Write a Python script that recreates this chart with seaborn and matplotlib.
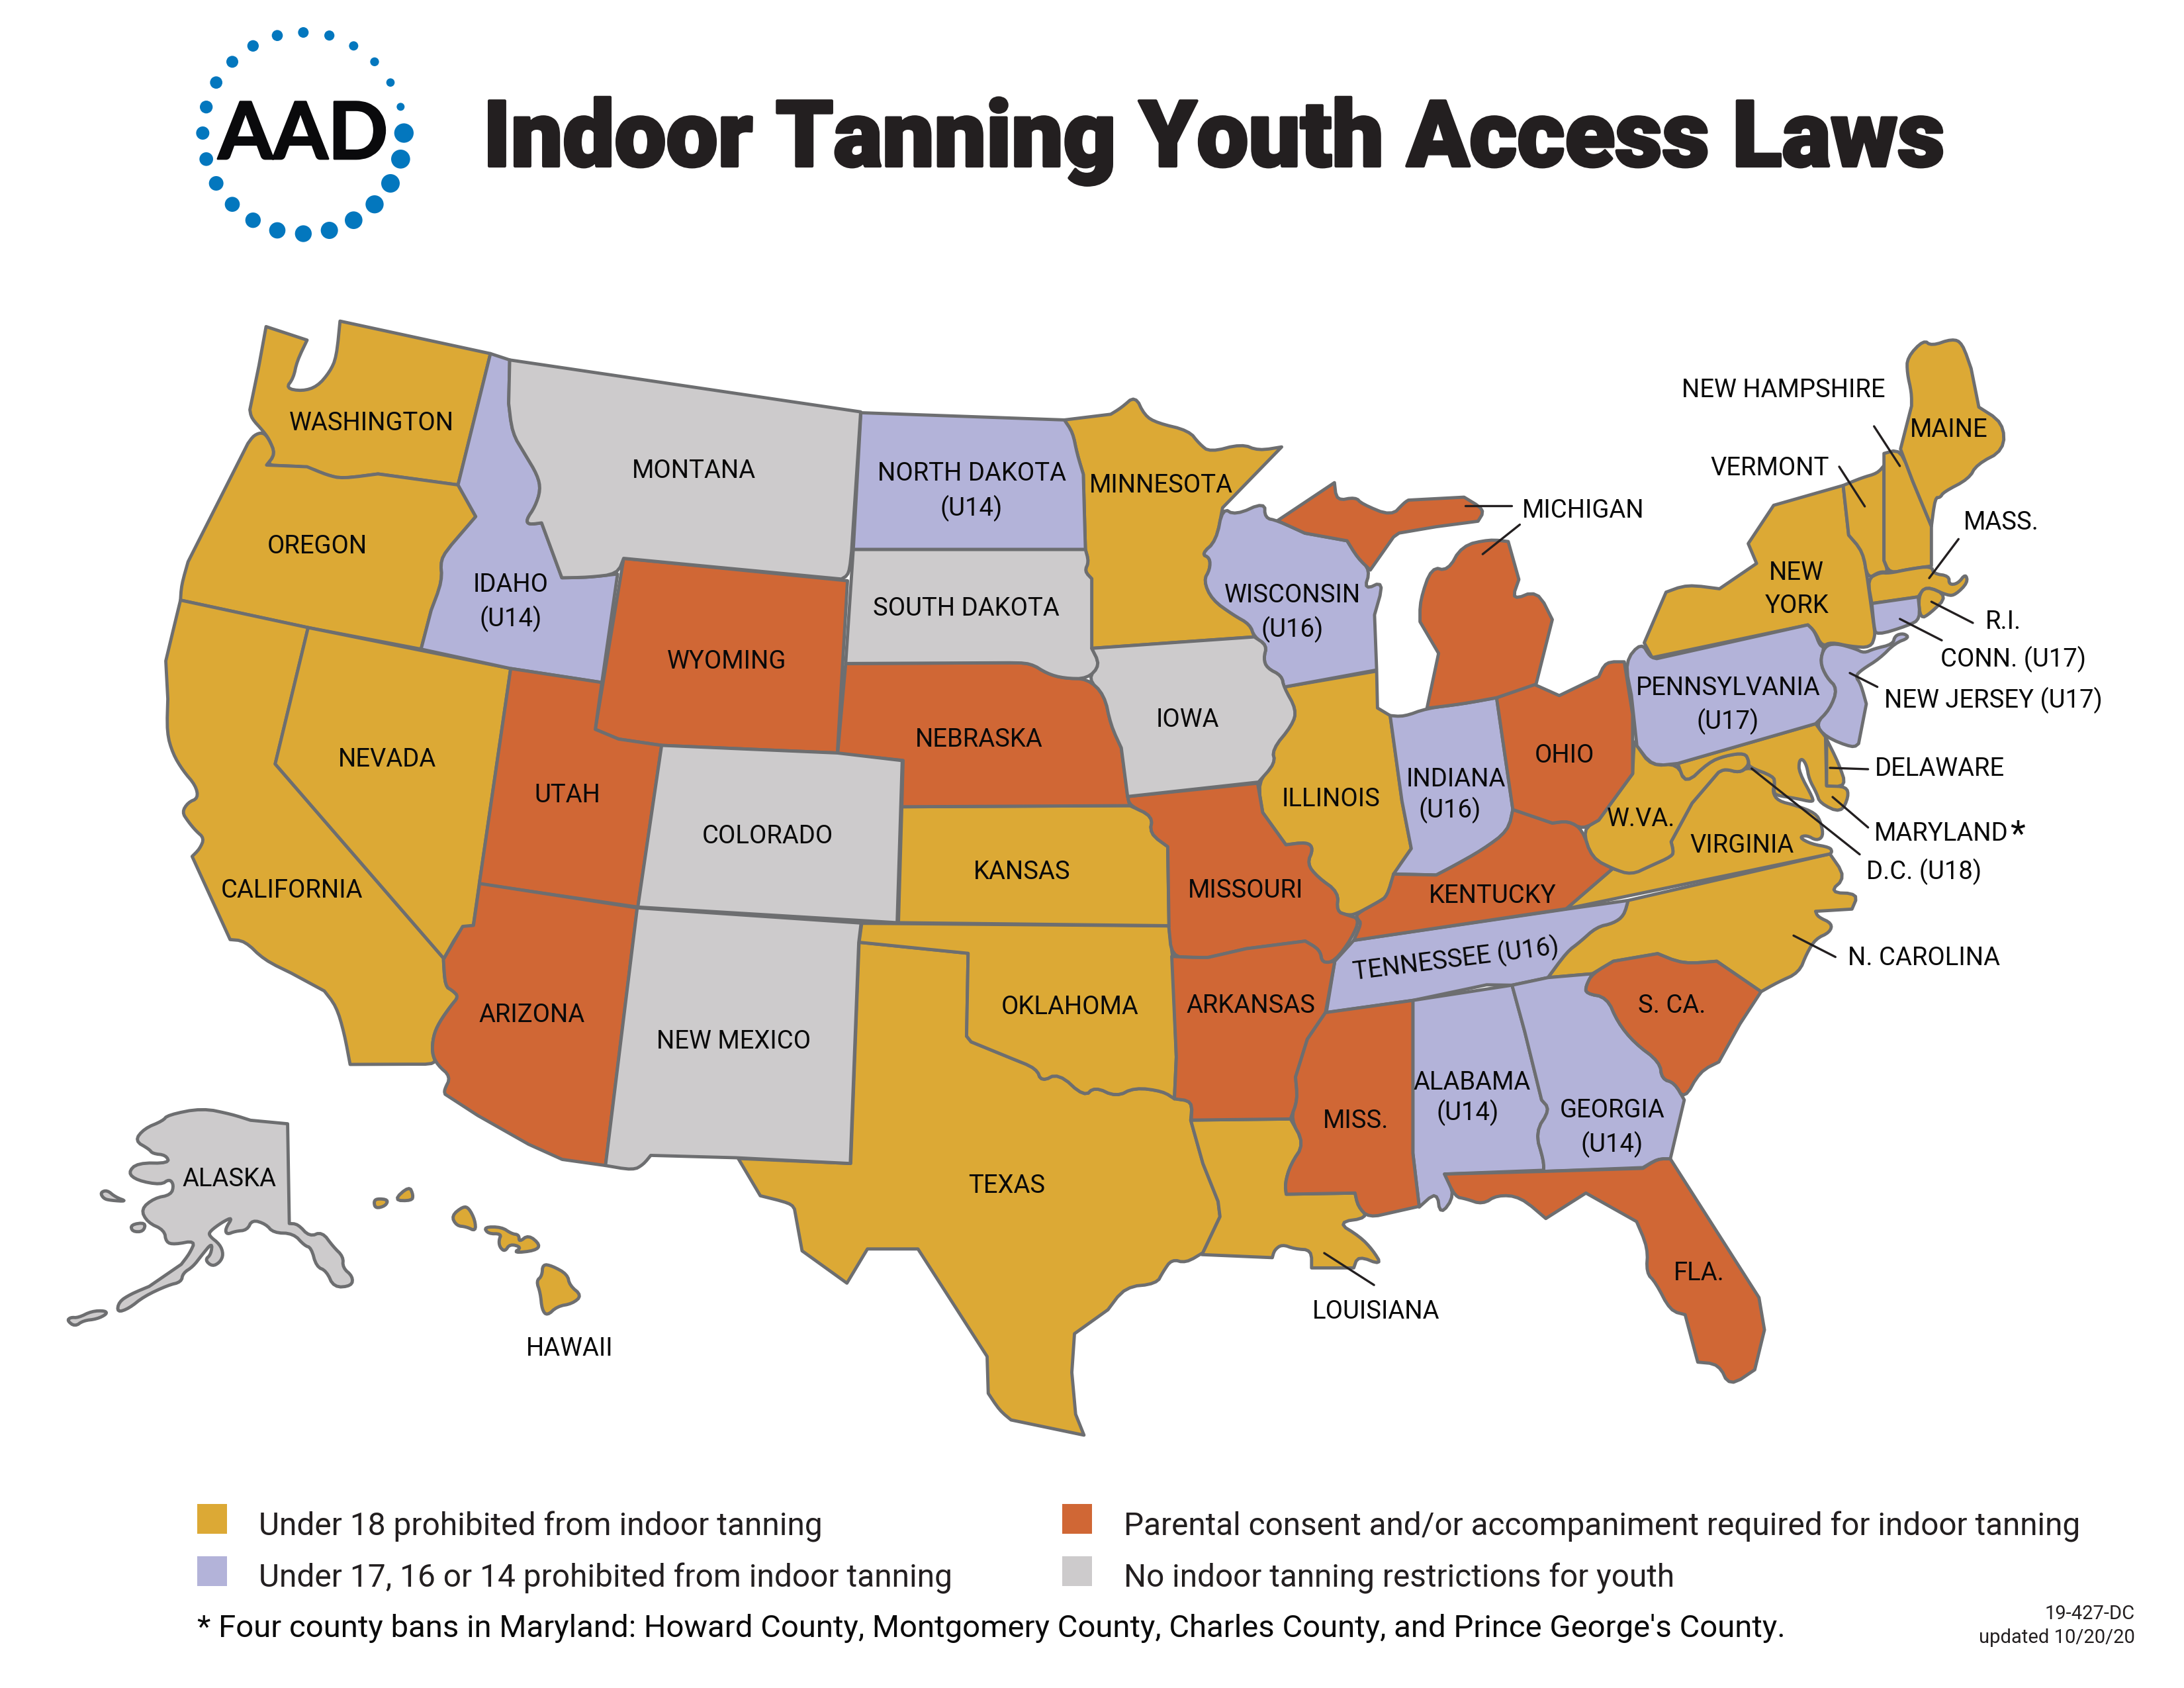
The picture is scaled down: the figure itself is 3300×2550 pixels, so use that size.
import math
import pandas as pd
import seaborn as sns
import matplotlib.pyplot as plt
import matplotlib.patheffects as pe


def crop(x0, y0, sx, sy):
    def trace(pts):
        return [(x0 + x / sx, y0 + y / sy) for x, y in pts]
    return trace


W = crop(200, 450, 1.3067, 1.568)
C = crop(1200, 550, 1.568, 1.742)
E = crop(2100, 480, 1.4255, 1.568)
S = crop(1800, 1300, 1.568, 1.742)
A = crop(80, 1650, 1.96, 3)
SW = crop(620, 1300, 1.96, 1.96)
TX = crop(1100, 1350, 1.742, 1.742)
NE = crop(2650, 480, 3, 3)
MA = crop(2450, 950, 3, 3)
FULL = crop(0, 0, 1, 1)

WASHINGTON = W([(264,68),(345,100),(325,150),(318,190),(303,214),(335,221),(365,210),(390,175),(403,140),(410,55),(707,132),(643,443),(485,417),(415,428),(385,420),(345,400),(300,398),(265,396),(282,370),(270,335),(258,315),(235,285),(232,265),(250,160)])
OREGON = W([(258,318),(240,325),(228,345),(110,625),(97,680),(95,716),(347,781),(570,832),(590,740),(612,670),(608,620),(630,585),(678,518),(643,443),(485,417),(415,428),(385,420),(345,400),(265,396),(282,370),(270,335)])
CALIFORNIA = W([(95,716),(347,781),(282,1104),(615,1565)]) + SW([(98,293),(103,372),(125,385),(143,403),(120,430),(85,480),(68,520),(64,570),(78,603),(0,603)]) + FULL([(529,1608),(520,1560),(508,1520),(490,1497),(440,1470),(399,1450)]) + W([(222,1523),(193,1520),(118,1323),(133,1305),(142,1280),(125,1262),(110,1240),(98,1218),(110,1195),(130,1185),(125,1155),(100,1120),(80,1080),(68,1030),(70,950),(66,860),(80,790)])
NEVADA = W([(347,781),(747,878),(685,1388),(673,1488),(650,1490),(615,1565),(282,1104)])
IDAHO = W([(707,132),(745,147),(743,250),(750,320),(775,370),(800,420),(806,455),(795,495),(778,525),(782,537),(808,533),(848,663),(900,662),(958,654),(927,911),(747,878),(570,832),(590,740),(612,670),(608,620),(630,585),(678,518),(643,443)])
MONTANA = W([(745,147),(1438,270),(1420,600),(1415,655),(1400,666),(970,617),(958,654),(900,662),(848,663),(808,533),(782,537),(778,525),(795,495),(806,455),(800,420),(775,370),(750,320),(743,250)])
WYOMING = W([(970,617),(1412,670),(1392,1078),(1045,1060),(960,1045),(914,1022)])
UTAH = W([(747,878),(927,911),(914,1022),(960,1045),(1045,1060),(998,1443),(685,1388)])
COLORADO = W([(1045,1060),(1392,1078),(1520,1096),(1510,1480),(998,1443)])
ARIZONA = SW([(205,68),(672,140),(578,903),(450,885),(350,840),(200,755),(103,692),(100,680),(120,640),(80,605),(64,570),(68,520),(85,480),(120,430),(143,403),(125,385),(103,372),(98,293),(155,195),(187,192)])
NEW_MEXICO = SW([(672,140),(1335,185),(1328,243),(1303,897),(965,880),(712,873),(690,900),(660,917),(578,903)])
OKLAHOMA = TX([(352,78),(1160,85),(1170,165),(1180,430),(1175,540),(1145,520),(1070,510),(1022,535),(965,508),(938,535),(870,472),(825,495),(812,460),(750,435),(640,390),(628,375),(632,157),(345,128)])
TEXAS = TX([(345,128),(632,157),(628,375),(640,390),(750,435),(812,460),(825,495),(870,472),(938,535),(965,508),(1022,535),(1070,510),(1145,520),(1175,540),(1222,546),(1218,596),(1250,710),(1290,810),(1295,850),(1250,945),(1205,972),(1168,962),(1145,995),(1128,1027),(1045,1035),(1000,1095),(912,1158),(905,1260),(915,1370),(937,1425),(745,1385),(715,1360),(685,1315),(682,1218),(500,935),(367,935),(313,1025),(195,940),(175,830),(165,815),(85,795),(27,697),(323,710)])
KANSAS = C([(255,1165),(795,1162),(850,1190),(842,1235),(885,1270),(888,1478),(247,1470)])
NEBRASKA = C([(122,788),(510,786),(560,787),(600,815),(640,827),(695,828),(735,870),(750,950),(775,1010),(790,1138),(795,1162),(255,1165),(258,1043),(103,1025)])
SOUTH_DAKOTA = C([(140,488),(690,488),(698,520),(688,545),(705,565),(705,748),(725,792),(695,828),(640,827),(600,815),(560,787),(510,786),(122,788)])
NORTH_DAKOTA = C([(158,128),(640,147),(660,180),(670,235),(685,290),(690,488),(140,488)])
MINNESOTA = C([(640,147),(750,132),(775,115),(808,83),(830,135),(860,155),(935,175),(960,210),(985,232),(1060,210),(1100,228),(1155,218),(1015,378),(1000,465),(965,500),(985,510),(985,540),(970,570),(990,620),(1040,660),(1080,685),(1090,718),(705,748),(705,565),(688,545),(698,520),(690,488),(685,290),(670,235),(660,180)])
WISCONSIN = C([(1015,378),(1045,398),(1115,363),(1115,405),(1145,412),(1210,445),(1310,465),(1335,510),(1365,542),(1350,595),(1398,570),(1375,660),(1380,805),(1160,850),(1155,820),(1120,800),(1112,775),(1120,740),(1090,718),(1080,685),(1040,660),(990,620),(970,570),(985,540),(985,510),(965,500),(1000,465)])
IOWA = C([(705,748),(1090,718),(1120,740),(1112,775),(1120,800),(1155,820),(1160,850),(1190,910),(1180,950),(1132,1015),(1140,1050),(1100,1100),(790,1138),(775,1010),(750,950),(735,870),(695,828),(725,792)])
ILLINOIS = C([(1160,850),(1380,808),(1382,905),(1412,925),(1440,1150),(1462,1275),(1420,1342),(1405,1400),(1385,1415),(1330,1448),(1310,1450),(1285,1440),(1290,1390),(1240,1350),(1215,1315),(1230,1275),(1215,1258),(1165,1265),(1110,1180),(1098,1100),(1140,1050),(1132,1015),(1180,950),(1190,910)])
MISSOURI = C([(790,1138),(1098,1103),(1110,1180),(1165,1265),(1215,1258),(1230,1275),(1215,1315),(1240,1350),(1290,1390),(1285,1440),(1310,1450),(1340,1460)]) + S([(380,205),(340,265),(310,270),(305,235),(270,212),(130,232),(40,255),(0,255)]) + TX([(1168,165),(1160,85)]) + C([(888,1478),(885,1270),(842,1235),(850,1190),(795,1162)])
ARKANSAS = TX([(1168,165)]) + S([(0,255),(40,255),(130,232),(270,212),(305,235),(310,270),(340,265),(318,400),(275,470),(247,570),(252,630),(235,680),(0,683)]) + TX([(1222,546),(1175,540),(1180,430)])
MISSISSIPPI = S([(318,400),(525,368),(525,770),(540,910),(480,925),(420,940),(395,910),(388,875),(225,878),(222,850),(235,800),(268,745),(235,680),(252,630),(247,570),(275,470)])
LOUISIANA = S([(0,683),(235,680),(268,745),(235,800),(222,850),(225,878),(388,875),(395,910),(420,940),(345,952),(400,990),(430,1025),(452,1065),(395,1040),(385,1072),(285,1072),(285,1025),(245,1022),(215,1010),(197,1025),(192,1045),(25,1037)]) + TX([(1250,945),(1295,850),(1290,810),(1250,710),(1218,596)])
ALABAMA = S([(525,368),(760,328),(790,450),(830,630),(850,655),(815,715),(835,790),(835,815),(600,825),(625,880),(590,935),(582,870),(540,912),(525,770)])
GEORGIA = S([(760,328),(845,308),(950,298),(935,330),(935,350),(985,360),(1010,425),(1050,480),(1110,530),(1115,575),(1145,585),(1168,630),(1135,785),(1105,785),(1070,808),(835,818),(835,790),(815,715),(850,655),(830,630),(790,450)])
FLORIDA = S([(600,825),(835,818),(1070,810),(1105,785),(1135,785),(1345,1150),(1358,1235),(1335,1340),(1275,1385),(1250,1325),(1200,1320),(1170,1195),(1135,1185),(1100,1110),(1078,1085),(1082,1020),(1055,950),(935,875),(840,942),(780,885),(725,880),(690,905),(650,890),(625,885)])
SOUTH_CAROLINA = S([(935,330),(950,298),(1000,265),(1105,245),(1165,272),(1245,265),(1350,345),(1300,430),(1250,530),(1205,555),(1168,630),(1145,585),(1115,575),(1110,530),(1050,480),(1010,425),(985,360),(935,350)])
TENNESSEE = S([(385,210),(888,128),(1035,105),(1025,145),(1000,165),(960,175),(920,215),(890,240),(845,308),(760,328),(700,327),(525,368),(320,400),(340,265)])
NORTH_CAROLINA = S([(845,308),(890,240),(920,215),(960,175),(1000,165),(1025,145),(1035,105)]) + MA([(945,1020),(1018,1125),(940,1195),(1075,1200),(1045,1270),(880,1280),(890,1305),(955,1335),(945,1375),(880,1405),(840,1470)]) + S([(1440,295),(1390,320),(1350,345),(1245,265),(1165,272),(1105,245),(1000,265),(950,298)])
VIRGINIA = E([(380,1400),(480,1305),(520,1318)]) + MA([(130,1075),(230,1030),(235,1005),(225,965),(320,790),(440,650),(470,635),(535,652),(575,625),(690,668),(695,700),(685,740),(710,780),(790,800),(880,835),(905,880),(915,940),(885,960),(840,935),(805,945),(860,975),(945,990),(955,1010),(945,1020)])
WEST_VIRGINIA = MA([(58,500),(70,530),(135,622),(255,610),(290,705),(395,605),(470,575),(560,562),(578,600),(570,625),(535,652),(470,635),(440,650),(320,790),(225,965),(235,1005),(230,1030),(130,1075),(45,1115)]) + E([(480,1305),(435,1280),(415,1212),(450,1190),(523,1080)])
MARYLAND = MA([(255,610),(290,705),(395,605),(470,575),(560,562),(578,600),(575,625),(690,668),(695,700),(690,740),(705,755),(790,768),(865,785),(870,770),(805,650),(805,600),(820,588),(840,620),(850,680),(885,745),(900,790),(995,835),(1030,760),(1020,715),(930,710),(925,490),(880,430)])
DELAWARE = MA([(930,500),(985,610),(1020,715),(930,712)])
NEW_JERSEY = MA([(880,430),(925,490),(1050,540),(1075,520),(1110,340),(1085,250),(1060,215),(1090,185),(1170,135),(1240,65),(1305,40),(1280,20),(1240,30),(1230,70),(1145,90),(1100,110),(1060,90),(970,65),(920,80),(900,150),(930,220),(980,270),(945,365)])
PENNSYLVANIA = MA([(15,150),(90,60),(130,128),(160,135)]) + NE([(245,1392),(275,1420),(300,1488)]) + MA([(920,80),(900,150),(930,220),(980,270),(945,365),(880,430),(255,610),(140,622),(70,530),(45,300)])
OHIO = E([(505,815),(523,940),(523,1080),(450,1190),(415,1212),(385,1192),(350,1197),(265,1165),(230,900),(310,868),(365,895),(450,850),(465,815)])
INDIANA = C([(1412,925),(1440,1150),(1462,1275),(1420,1342)]) + E([(100,1320),(135,1300),(200,1260),(255,1215),(265,1165),(230,900),(155,915),(80,925),(30,945)])
KENTUCKY = E([(265,1165),(350,1197),(385,1192),(415,1212),(435,1280),(480,1305),(380,1400)]) + S([(385,210),(403,165),(395,155)]) + C([(1330,1448),(1385,1415),(1405,1400),(1420,1342)]) + E([(100,1320),(135,1300),(200,1260),(255,1215)])
MICHIGAN_UPPER = C([(1145,412),(1280,312),(1285,360),(1330,350),(1345,368),(1415,400),(1445,365)]) + E([(40,432),(160,425),(205,455),(190,482),(100,495),(20,510)]) + C([(1420,455),(1365,542),(1335,510),(1310,465),(1210,445)])
MICHIGAN_LOWER = E([(215,525),(255,530),(278,620),(262,670),(318,645),(350,715),(315,868),(230,900),(155,915),(80,925),(105,795),(65,720),(65,670),(90,590),(125,600),(155,540)])
NEW_YORK = E([(548,770),(595,650),(640,632),(710,642),(790,582),(772,535)]) + NE([(90,850),(405,760),(430,985),(495,1060),(515,1185),(545,1400),(550,1440),(530,1495),(440,1490),(350,1470),(310,1490),(275,1420),(245,1392)]) + E([(565,805)])
VERMONT = NE([(405,760),(490,725),(560,705),(590,670),(590,1100),(610,1155),(570,1150),(515,1185),(495,1060),(430,985)])
NEW_HAMPSHIRE = NE([(590,615),(665,595),(720,740),(805,945),(805,1125),(700,1140),(615,1158),(590,1100)])
MAINE = NE([(665,595),(715,400),(715,340),(695,250),(695,180),(770,100),(805,128),(900,95),(945,115),(985,230),(1020,405),(1130,475),(1135,600),(1010,665),(975,730),(860,790),(845,815),(822,815),(805,945),(720,740)])
MASSACHUSETTS = NE([(515,1185),(570,1155),(615,1158),(700,1140),(805,1125),(815,1160),(885,1170),(885,1210),(925,1205),(960,1160),(970,1200),(915,1255),(880,1260),(780,1215),(745,1265),(535,1295)])
CONNECTICUT = NE([(535,1295),(745,1265),(755,1365),(700,1395),(555,1440),(545,1400)])
RHODE_ISLAND = NE([(745,1265),(780,1215),(880,1260),(800,1340),(755,1365)])
ALASKA = A([(442,72),(530,100),(585,127),(695,143),(700,595),(725,597),(760,655),(797,632),(830,700),(860,745),(858,795),(888,835),(885,878),(832,885),(810,810),(780,790),(765,705),(745,695),(712,640),(653,637),(630,597),(590,578),(575,625),(540,630),(515,645),(510,620),(533,565),(500,590),(465,630),(462,650),(495,690),(505,735),(495,770),(472,790),(450,760),(468,735),(472,680),(440,740),(415,790),(385,820),(380,860),(340,875),(270,925),(225,980),(190,998),(195,950),(230,915),(285,880),(380,780),(405,730),(422,672),(360,690),(335,680),(330,625),(280,590),(260,530),(300,480),(350,465),(358,420),(345,393),(320,420),(250,400),(222,365),(250,320),(345,322),(335,285),(295,278),(285,258),(242,220),(270,165),(325,130),(340,103)])
ST_LAWRENCE = A([(140,455),(160,443),(185,475),(220,495),(170,490),(150,482)])
NUNIVAK = A([(230,600),(275,590),(268,632),(235,632)])
ALEUTIAN = A([(42,1035),(52,1020),(75,1022),(115,992),(155,990),(160,1005),(130,1028),(90,1035),(65,1062)])
KAUAI = A([(950,495),(960,482),(993,487),(985,515),(955,527)])
NIIHAU = A([(1008,490),(1055,425),(1067,465),(1063,492)])
OAHU = A([(1180,560),(1215,517),(1232,525),(1250,580),(1252,630),(1225,610),(1195,605)])
MAUI = SW([(218,1085),(270,1085),(300,1105),(322,1108),(322,1130),(350,1108),(385,1138),(370,1155),(305,1162),(330,1145),(295,1135),(280,1158),(265,1145),(262,1125),(270,1105),(230,1105)])
BIG_ISLAND = SW([(392,1195),(420,1200),(465,1225),(472,1258),(508,1288),(480,1312),(435,1320),(405,1348),(390,1330),(385,1280),(373,1245),(390,1230)])

# law category -> shapes
UNDER_18 = [WASHINGTON, OREGON, CALIFORNIA, NEVADA, TEXAS, OKLAHOMA, KANSAS, MINNESOTA, ILLINOIS, LOUISIANA,
            NORTH_CAROLINA, VIRGINIA, WEST_VIRGINIA, MARYLAND, DELAWARE, NEW_YORK, VERMONT, NEW_HAMPSHIRE, MAINE,
            MASSACHUSETTS, RHODE_ISLAND, KAUAI, NIIHAU, OAHU, MAUI, BIG_ISLAND]
UNDER_17 = [IDAHO, NORTH_DAKOTA, WISCONSIN, INDIANA, TENNESSEE, ALABAMA, GEORGIA, PENNSYLVANIA, NEW_JERSEY, CONNECTICUT]
PARENTAL = [WYOMING, UTAH, ARIZONA, NEBRASKA, MISSOURI, ARKANSAS, MISSISSIPPI, KENTUCKY, OHIO, MICHIGAN_UPPER,
            MICHIGAN_LOWER, SOUTH_CAROLINA, FLORIDA]
NO_LAW = [MONTANA, COLORADO, NEW_MEXICO, SOUTH_DAKOTA, IOWA, ALASKA, ST_LAWRENCE, NUNIVAK, ALEUTIAN]

state_labels = ["WASHINGTON", "OREGON", "IDAHO", "(U14)", "MONTANA", "WYOMING", "NEVADA", "UTAH", "COLORADO", "CALIFORNIA",
                "ARIZONA", "NEW MEXICO", "NORTH DAKOTA", "(U14)", "SOUTH DAKOTA", "MINNESOTA", "WISCONSIN", "(U16)", "IOWA",
                "NEBRASKA", "KANSAS", "MISSOURI", "ILLINOIS", "OKLAHOMA", "TEXAS", "ARKANSAS", "KENTUCKY", "MISS.",
                "ALABAMA", "(U14)", "GEORGIA", "(U14)", "S. CA.", "FLA.", "LOUISIANA", "N. CAROLINA", "HAWAII", "ALASKA",
                "INDIANA", "(U16)", "OHIO", "W.VA.", "VIRGINIA", "PENNSYLVANIA", "(U17)", "NEW", "YORK", "MAINE",
                "NEW HAMPSHIRE", "VERMONT", "MICHIGAN", "MASS.", "R.I.", "CONN. (U17)", "NEW JERSEY (U17)", "DELAWARE",
                "MARYLAND", "D.C. (U18)"]
label_x = [561, 479, 772, 772, 1048, 1098, 585, 857, 1160, 441, 804, 1109, 1469, 1468, 1460, 1754, 1953, 1953, 1794,
           1479, 1544, 1882, 2011, 1617, 1521, 1890, 2255, 2049, 2224, 2218, 2436, 2436, 2526, 2567, 2079, 2907, 861, 346,
           2200, 2191, 2364, 2480, 2632, 2611, 2611, 2714, 2715, 2945, 2695, 2674, 2392, 3024, 3027, 3042, 3012, 2931,
           2933, 2907]
label_y = [639, 825, 883, 935, 712, 999, 1147, 1202, 1264, 1345, 1534, 1574, 716, 768, 919, 733, 900, 951, 1087,
           1118, 1317, 1346, 1207, 1522, 1791, 1519, 1353, 1693, 1635, 1681, 1677, 1729, 1519, 1924, 1981, 1447, 2038, 1781,
           1178, 1224, 1142, 1238, 1278, 1039, 1090, 865, 916, 650, 589, 707, 771, 790, 939, 996, 1058, 1162,
           1259, 1317]

# leader lines from the outside labels into the small states
leader_start = E([(163,445),(280,490)]) + NE([(545,492),(387,675),(928,1003),(805,1287),(662,1365)]) + MA([(1035,200),(945,630),(957,762),(590,633),(780,1390)]) + S([(315,1033)])
leader_end = E([(263,445),(200,560)]) + NE([(662,672),(503,855),(795,1180),(993,1383),(852,1462)]) + MA([(1160,263),(1118,636),(1118,900),(1080,1022),(970,1487)]) + S([(433,1117)])

# logo ring, read clockwise from the top
dot_x = [595,713,823,918,990,1036,1051,1036,990,918,823,713,595,477,367,273,200,155,139,155,200,273,367,477]
dot_y = [87,101,148,220,314,424,543,661,771,866,938,984,999,984,938,866,771,661,543,425,314,220,148,101]
dot_d = [48,46,42,40,38,36,88,86,84,82,80,78,76,74,70,68,66,62,60,58,56,54,52,50]

legend_left = ["Under 18 prohibited from indoor tanning", "Under 17, 16 or 14 prohibited from indoor tanning"]
legend_right = ["Parental consent and/or accompaniment required for indoor tanning", "No indoor tanning restrictions for youth"]
footnote = "* Four county bans in Maryland: Howard County, Montgomery County, Charles County, and Prince George's County."


def round_off(shape, passes=2, reach=55):
    # the source map has soft coasts and rivers, long straight borders stay sharp
    for _ in range(passes):
        out = []
        n = len(shape)
        for i, (x, y) in enumerate(shape):
            px, py = shape[i - 1]
            nx, ny = shape[(i + 1) % n]
            if max(math.hypot(px - x, py - y), math.hypot(nx - x, ny - y)) > reach:
                out.append((x, y))
            else:
                out.append((x + (px - x) * 0.25, y + (py - y) * 0.25))
                out.append((x + (nx - x) * 0.25, y + (ny - y) * 0.25))
        shape = out
    return shape


palette = sns.color_palette(["#dca935", "#b3b3d9", "#d06735", "#cdcbcc"])
outline = "#6d6e70"
ink = "#231f20"

sns.set_theme(style="white")
plt.rcParams['font.family'] = ['Roboto', 'DejaVu Sans']

fig = plt.figure(figsize=(33, 25.5), dpi=100)
ax = fig.add_axes([0, 0, 1, 1])
ax.set_xlim(0, 3300)
ax.set_ylim(2550, 0)
ax.axis('off')

for shapes, colour in zip([UNDER_18, UNDER_17, PARENTAL, NO_LAW], palette):
    for shape in shapes:
        xs, ys = zip(*round_off(shape))
        ax.fill(xs, ys, facecolor=colour, edgecolor=outline, linewidth=3.5, joinstyle='round')

for name, x, y in zip(state_labels, label_x, label_y):
    ax.text(x, y, name, fontsize=27.5, ha='center', va='center', color='#0a0a0a')
ax.text(2200, 1449, "TENNESSEE (U16)", fontsize=27.5, ha='center', va='center', rotation=7.2, color='#0a0a0a')
ax.text(3049, 1262, "*", fontsize=38, ha='center', va='center', color='#0a0a0a')

lines = pd.DataFrame({
    'x': [p[0] for p in leader_start] + [p[0] for p in leader_end],
    'y': [p[1] for p in leader_start] + [p[1] for p in leader_end],
    'line': list(range(len(leader_start))) * 2,
})
sns.lineplot(data=lines, x='x', y='y', units='line', estimator=None, sort=False, color=ink, linewidth=2.4, ax=ax)
ax.axis('off')

# logo
logo = pd.DataFrame({
    'x': [260 + v / 3 for v in dot_x],
    'y': [20 + v / 3 for v in dot_y],
    'area': [(v / 3 * 0.72) ** 2 for v in dot_d],
})
sns.scatterplot(data=logo, x='x', y='y', size='area', sizes=(logo['area'].min(), logo['area'].max()),
                color='#0377be', linewidth=0, legend=False, ax=ax)
ax.axis('off')
ax.text(458, 240, "AAD", fontsize=86, fontweight='bold', family=['Lato', 'DejaVu Sans'], ha='center', va='baseline',
        color='#0a0a0c', path_effects=[pe.withStroke(linewidth=2, foreground='#0a0a0c')])

ax.text(730, 251, "Indoor Tanning Youth Access Laws", fontsize=100, fontweight='black', ha='left', va='baseline', color=ink,
        path_effects=[pe.withStroke(linewidth=3, foreground=ink)])

# legend
for i, (colour, label) in enumerate(zip(palette[:2], legend_left)):
    top = 2272 + i * 79
    ax.fill([298, 343, 343, 298], [top, top, top + 45, top + 45], facecolor=colour, edgecolor='none')
    ax.text(391, top + 47, label, fontsize=34.5, ha='left', va='baseline', color=ink)
for i, (colour, label) in enumerate(zip(palette[2:], legend_right)):
    top = 2272 + i * 79
    ax.fill([1605, 1650, 1650, 1605], [top, top, top + 45, top + 45], facecolor=colour, edgecolor='none')
    ax.text(1698, top + 47, label, fontsize=34.4, ha='left', va='baseline', color=ink)

ax.text(298, 2473, footnote, fontsize=34, ha='left', va='baseline', color='#0a0a0a')
ax.text(3226, 2446, "19-427-DC", fontsize=21, ha='right', va='baseline', color=ink)
ax.text(3226, 2482, "updated 10/20/20", fontsize=21, ha='right', va='baseline', color=ink)

fig.savefig('out.png', dpi=100, facecolor='white')
